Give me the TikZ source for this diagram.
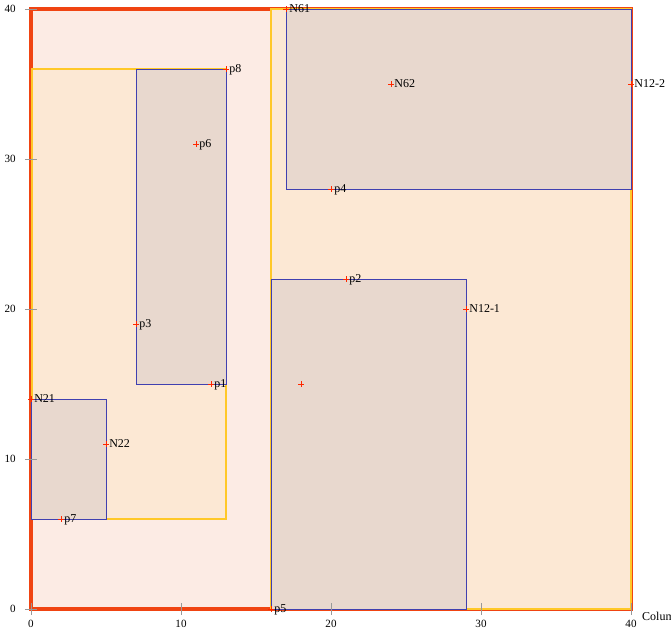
\documentclass[tikz,border=0pt]{standalone}
\usepackage{fontspec}
\setmainfont{Liberation Serif}
\definecolor{redline}{RGB}{240,68,18}
\definecolor{pinkfill}{RGB}{252,235,228}
\definecolor{yelline}{RGB}{255,200,40}
\definecolor{peachfill}{RGB}{252,232,212}
\definecolor{blueline}{RGB}{64,64,176}
\definecolor{brownfill}{RGB}{232,216,206}
\definecolor{markred}{RGB}{255,40,0}
\tikzset{
  outerbox/.style={draw=redline,fill=pinkfill,line width=2.6pt},
  yelbox/.style={draw=yelline,fill=peachfill,line width=1.6pt},
  bluebox/.style={draw=blueline,fill=brownfill,line width=0.6pt},
  ptmark/.style={draw=markred,line width=0.6pt},
  ptlabel/.style={anchor=base west,inner sep=0pt,xshift=2.3pt,yshift=-2.6pt,font=\fontsize{9}{10}\selectfont},
  ticklab/.style={inner sep=0pt,font=\fontsize{8.3}{9}\selectfont},
  tickline/.style={draw=gray!80,line width=0.5pt}
}
\begin{document}
\begin{tikzpicture}[x=11.25pt,y=11.25pt]
\useasboundingbox (-2.0667,-1.6667) rectangle (42.667,40.6);
\clip (-2.0667,-1.6667) rectangle (42.667,40.6);
% regions
\path[outerbox] (0,0) rectangle (40,40);
\path[yelbox] (0.08,6) rectangle (13,36);
\path[yelbox] (16,0) rectangle (40,40);
\path[bluebox] (7,15) rectangle (13,36);
\path[bluebox] (0.05,6) rectangle (5,14);
\path[bluebox] (16,0) rectangle (29,22);
\path[bluebox] (17,28) rectangle (40,40);
% ticks
\foreach \v in {0,10,20,30,40} {
  \draw[tickline] (-0.4,\v) -- (0.4,\v);
  \node[ticklab,anchor=east] (yl\v) at (-1.0,\v) {\v};
  \draw[tickline] (\v,-0.4) -- (\v,0.4);
  \node[ticklab,anchor=center] (xl\v) at (\v,-0.97) {\v};
}
\node[anchor=west,inner sep=0pt,font=\fontsize{9}{10}\selectfont] (xaxislabel) at (40.73,-0.5) {Column};
% points
\foreach \n/\x/\y/\t in {N61/17/40/N61, N62/24/35/N62, N122/40/35/N12-2, p8/13/36/p8,
  p6/11/31/p6, p4/20/28/p4, p2/21/22/p2, N121/29/20/N12-1, p3/7/19/p3, q/18/15/,
  p1/12/15/p1, N21/0/14/N21, N22/5/11/N22, p7/2/6/p7, p5/16/0/p5} {
  \coordinate (\n) at (\x,\y);
  \draw[ptmark] (\n) +(-0.18,0) -- +(0.18,0) +(0,-0.18) -- +(0,0.18);
  \node[ptlabel] (lab\n) at (\n) {\t};
}
\end{tikzpicture}
\end{document}
